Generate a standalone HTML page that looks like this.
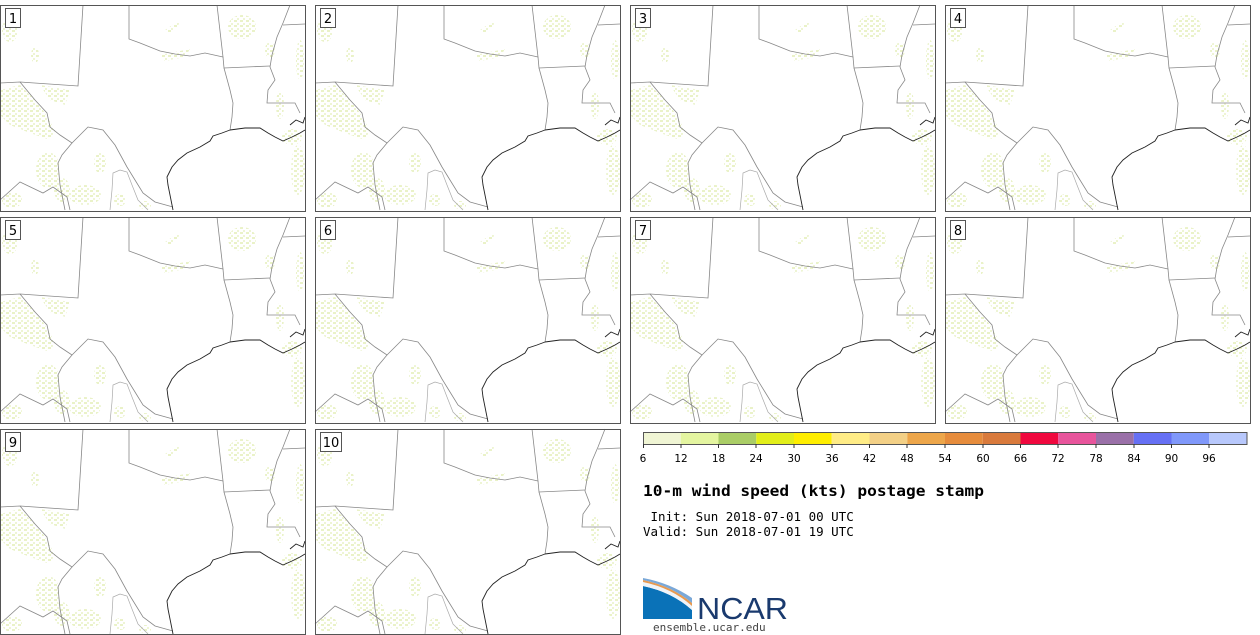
<!DOCTYPE html>
<html><head><meta charset="utf-8"><style>
html,body{margin:0;padding:0;background:#fff;}
svg{display:block;}
</style></head><body>
<svg width="1260" height="635" viewBox="0 0 1260 635" xmlns="http://www.w3.org/2000/svg">
<defs>
<pattern id="spk" width="6" height="5" patternUnits="userSpaceOnUse">
  <rect x="0" y="0" width="3" height="2" fill="#eaf2c8"/>
  <rect x="3" y="3" width="2" height="2" fill="#eef5d4"/>
</pattern>
<g id="map">
  <rect x="0" y="0" width="305" height="206" fill="#fff"/>
  <g fill="url(#spk)">
    <path d="M0,85 L20,80 40,100 55,125 50,135 30,128 10,120 0,110Z"/>
    <path d="M40,80 L70,85 65,100 50,95Z"/>
    <ellipse cx="48" cy="165" rx="12" ry="18"/>
    <ellipse cx="85" cy="190" rx="16" ry="10"/>
    <ellipse cx="62" cy="185" rx="8" ry="12"/>
    <ellipse cx="242" cy="22" rx="14" ry="12"/>
    <ellipse cx="298" cy="165" rx="7" ry="25"/>
    <ellipse cx="292" cy="132" rx="10" ry="8"/>
    <path d="M160,50 L190,44 185,52 165,56Z"/>
    <path d="M165,25 L180,15 178,22 168,30Z"/>
    <ellipse cx="12" cy="195" rx="10" ry="8"/>
    <ellipse cx="120" cy="195" rx="6" ry="6"/>
    <ellipse cx="280" cy="100" rx="4" ry="14"/>
    <ellipse cx="300" cy="55" rx="4" ry="20"/>
    <ellipse cx="10" cy="25" rx="8" ry="12"/>
    <ellipse cx="35" cy="50" rx="4" ry="8"/>
    <ellipse cx="100" cy="158" rx="6" ry="10"/>
    <ellipse cx="270" cy="45" rx="5" ry="8"/>
    <ellipse cx="145" cy="200" rx="6" ry="4"/>
  </g>
  <g fill="none" stroke="#888" stroke-width="0.8">
    <polyline points="0,78 20,77 78,81 83,0"/>
    <polyline points="129,0 129,34 140,38 160,46 175,49 190,51 205,48 223,52 217,0"/>
    <polyline points="223,52 224,63 270,61"/>
    <polyline points="224,63 230,85 233,98 232,112 230,125"/>
    <polyline points="290,0 283,18 277,32 272,50 270,62 275,75 268,85 267,98 295,98 300,108"/>
    <polyline points="283,20 305,19"/>
    <polyline points="20,77 35,95 47,108 50,122 60,130 72,138 80,130 88,122 103,125 115,140 127,162 135,175 143,188 155,197 173,202"/>
    <polyline points="72,138 62,150 58,158 60,180 65,205"/>
    <polyline points="0,195 20,177 43,188 53,182 67,192 70,205"/>
  </g>
  <g fill="none" stroke="#aaa" stroke-width="0.7">
    <polyline points="110,205 112,185 113,168 120,165 127,167 132,180 138,195 148,205"/>
  </g>
  <g fill="none" stroke="#222" stroke-width="0.9">
    <polyline points="230,125 222,128 213,131 210,136 200,142 187,148 178,155 172,162 167,172 168,180 170,190 173,205"/>
    <polyline points="230,125 245,123 260,123 268,128 275,132 283,136 292,132 300,128 305,125"/>
    <polyline points="290,120 296,115 303,118 305,112"/>
  </g>
</g>
</defs>

<g font-family="DejaVu Sans, Liberation Sans, sans-serif" font-size="13" fill="#000">
<g transform="translate(0,5)"><use href="#map"/><rect x="0.5" y="0.5" width="305" height="206" fill="none" stroke="#555"/><rect x="5.5" y="3.5" width="15" height="19" fill="#fff" stroke="#555"/><text x="13" y="18" text-anchor="middle">1</text></g>
<g transform="translate(315,5)"><use href="#map"/><rect x="0.5" y="0.5" width="305" height="206" fill="none" stroke="#555"/><rect x="5.5" y="3.5" width="15" height="19" fill="#fff" stroke="#555"/><text x="13" y="18" text-anchor="middle">2</text></g>
<g transform="translate(630,5)"><use href="#map"/><rect x="0.5" y="0.5" width="305" height="206" fill="none" stroke="#555"/><rect x="5.5" y="3.5" width="15" height="19" fill="#fff" stroke="#555"/><text x="13" y="18" text-anchor="middle">3</text></g>
<g transform="translate(945,5)"><use href="#map"/><rect x="0.5" y="0.5" width="305" height="206" fill="none" stroke="#555"/><rect x="5.5" y="3.5" width="15" height="19" fill="#fff" stroke="#555"/><text x="13" y="18" text-anchor="middle">4</text></g>
<g transform="translate(0,217)"><use href="#map"/><rect x="0.5" y="0.5" width="305" height="206" fill="none" stroke="#555"/><rect x="5.5" y="3.5" width="15" height="19" fill="#fff" stroke="#555"/><text x="13" y="18" text-anchor="middle">5</text></g>
<g transform="translate(315,217)"><use href="#map"/><rect x="0.5" y="0.5" width="305" height="206" fill="none" stroke="#555"/><rect x="5.5" y="3.5" width="15" height="19" fill="#fff" stroke="#555"/><text x="13" y="18" text-anchor="middle">6</text></g>
<g transform="translate(630,217)"><use href="#map"/><rect x="0.5" y="0.5" width="305" height="206" fill="none" stroke="#555"/><rect x="5.5" y="3.5" width="15" height="19" fill="#fff" stroke="#555"/><text x="13" y="18" text-anchor="middle">7</text></g>
<g transform="translate(945,217)"><use href="#map"/><rect x="0.5" y="0.5" width="305" height="206" fill="none" stroke="#555"/><rect x="5.5" y="3.5" width="15" height="19" fill="#fff" stroke="#555"/><text x="13" y="18" text-anchor="middle">8</text></g>
<g transform="translate(0,429)"><use href="#map"/><rect x="0.5" y="0.5" width="305" height="205" fill="none" stroke="#555"/><rect x="5.5" y="3.5" width="15" height="19" fill="#fff" stroke="#555"/><text x="13" y="18" text-anchor="middle">9</text></g>
<g transform="translate(315,429)"><use href="#map"/><rect x="0.5" y="0.5" width="305" height="205" fill="none" stroke="#555"/><rect x="5.5" y="3.5" width="21" height="19" fill="#fff" stroke="#555"/><text x="16" y="18" text-anchor="middle">10</text></g>
</g>

<g>
<rect x="643" y="432" width="37.75" height="12" fill="#f0f5d4"/>
<rect x="680.75" y="432" width="37.75" height="12" fill="#e4f5a0"/>
<rect x="718.5" y="432" width="37.75" height="12" fill="#aacd66"/>
<rect x="756.25" y="432" width="37.75" height="12" fill="#e2ee1a"/>
<rect x="794" y="432" width="37.75" height="12" fill="#ffee00"/>
<rect x="831.75" y="432" width="37.75" height="12" fill="#ffec86"/>
<rect x="869.5" y="432" width="37.75" height="12" fill="#f3d086"/>
<rect x="907.25" y="432" width="37.75" height="12" fill="#eda64a"/>
<rect x="945" y="432" width="37.75" height="12" fill="#e68c3c"/>
<rect x="982.75" y="432" width="37.75" height="12" fill="#d97a3c"/>
<rect x="1020.5" y="432" width="37.75" height="12" fill="#f0083e"/>
<rect x="1058.25" y="432" width="37.75" height="12" fill="#e8559c"/>
<rect x="1096" y="432" width="37.75" height="12" fill="#9a70a8"/>
<rect x="1133.75" y="432" width="37.75" height="12" fill="#6670f4"/>
<rect x="1171.5" y="432" width="37.75" height="12" fill="#8098fa"/>
<rect x="1209.25" y="432" width="37.75" height="12" fill="#b8c8fc"/>
<rect x="643.5" y="432.5" width="603.5" height="12" fill="none" stroke="#555"/>
<g stroke="#333" stroke-width="1">
<line x1="643.5" y1="444" x2="643.5" y2="448"/><line x1="681" y1="444" x2="681" y2="448"/><line x1="718.5" y1="444" x2="718.5" y2="448"/><line x1="756" y1="444" x2="756" y2="448"/><line x1="794" y1="444" x2="794" y2="448"/><line x1="832" y1="444" x2="832" y2="448"/><line x1="869.5" y1="444" x2="869.5" y2="448"/><line x1="907" y1="444" x2="907" y2="448"/><line x1="945" y1="444" x2="945" y2="448"/><line x1="983" y1="444" x2="983" y2="448"/><line x1="1020.5" y1="444" x2="1020.5" y2="448"/><line x1="1058" y1="444" x2="1058" y2="448"/><line x1="1096" y1="444" x2="1096" y2="448"/><line x1="1134" y1="444" x2="1134" y2="448"/><line x1="1171.5" y1="444" x2="1171.5" y2="448"/><line x1="1209" y1="444" x2="1209" y2="448"/>
</g>
<g font-family="DejaVu Sans, Liberation Sans, sans-serif" font-size="10.5" fill="#000" text-anchor="middle">
<text x="643" y="462">6</text><text x="681" y="462">12</text><text x="718.5" y="462">18</text><text x="756" y="462">24</text><text x="794" y="462">30</text><text x="832" y="462">36</text><text x="869.5" y="462">42</text><text x="907" y="462">48</text><text x="945" y="462">54</text><text x="983" y="462">60</text><text x="1020.5" y="462">66</text><text x="1058" y="462">72</text><text x="1096" y="462">78</text><text x="1134" y="462">84</text><text x="1171.5" y="462">90</text><text x="1209" y="462">96</text>
</g>
</g>

<g font-family="DejaVu Sans Mono, Liberation Mono, monospace" fill="#000">
<text x="643" y="496" font-size="15.5" font-weight="bold" textLength="341" lengthAdjust="spacingAndGlyphs">10-m wind speed (kts) postage stamp</text>
<text x="643" y="521" font-size="12.5" xml:space="preserve"> Init: Sun 2018-07-01 00 UTC</text>
<text x="643" y="536" font-size="12.5">Valid: Sun 2018-07-01 19 UTC</text>
<text x="653" y="631" font-size="11" fill="#444">ensemble.ucar.edu</text>
</g>

<g>
<path d="M643,586 Q672,592 692,610 L692,619 L643,619 Z" fill="#0a72b8"/>
<path d="M643,582 Q672,588 692,606 L692,610 Q672,592 643,586 Z" fill="#f0f4f8"/>
<path d="M643,580 Q672,586 692,603 L692,606 Q672,588 643,582 Z" fill="#e89a50"/>
<path d="M643,578 Q670,583 692,598 L692,603 Q672,586 643,580 Z" fill="#7aa8d8"/>
<text x="697" y="619" font-family="Liberation Sans, DejaVu Sans, sans-serif" font-size="31" fill="#1a3a6e" textLength="91" lengthAdjust="spacingAndGlyphs">NCAR</text>
</g>
</svg>
</body></html>
